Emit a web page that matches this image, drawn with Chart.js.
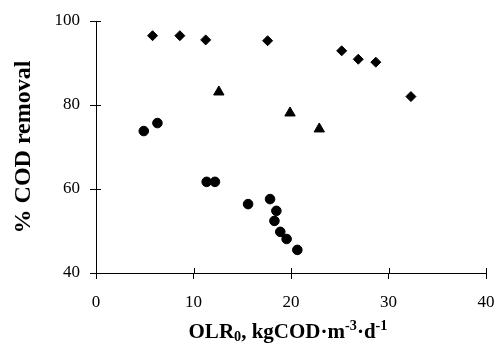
<!DOCTYPE html>
<html>
<head>
<meta charset="utf-8">
<script src="https://cdn.jsdelivr.net/npm/chart.js@4/dist/chart.umd.min.js"></script>
<style>
  html, body { margin: 0; padding: 0; background: #fff; }
  #wrap { width: 498px; height: 344px; }
</style>
</head>
<body>
<div id="wrap"><canvas id="chart"></canvas></div>
<script>
// 数据
const diamondX = [5.8, 8.6, 11.25, 17.6, 25.2, 26.9, 28.7, 32.3];
const diamondY = [96.5, 96.5, 95.5, 95.3, 92.9, 90.9, 90.2, 82.0];
const triangleX = [12.6, 19.9, 22.9];
const triangleY = [83.1, 78.1, 74.3];
const circleX = [4.9, 6.3, 11.35, 12.2, 15.6, 17.85, 18.5, 18.3, 18.9, 19.55, 20.65];
const circleY = [73.8, 75.7, 61.7, 61.7, 56.4, 57.6, 54.8, 52.4, 49.8, 48.1, 45.5];
const xTicks = [0, 10, 20, 30, 40];
const yTicks = [40, 60, 80, 100];

// x轴标题分段: 文字, 相对字号, 上下偏移(以字号计)
const xTitleParts = [
    ['OLR', 1, 0],
    ['0', 0.68, 0.16],
    [', kgCOD·m', 1, 0],
    ['-3', 0.68, -0.38],
    ['·d', 1, 0],
    ['-1', 0.68, -0.38]
];

const serif = "'Liberation Serif', 'Times New Roman', serif";

function toPoints(xs, ys) {
    return xs.map((x, i) => ({ x: x, y: ys[i] }));
}

function series(xs, ys, style, radius) {
    return {
        data: toPoints(xs, ys),
        pointStyle: style,
        pointRadius: radius,
        pointBackgroundColor: '#000',
        pointBorderColor: '#000',
        pointBorderWidth: 1,
        showLine: false
    };
}

// 轴线内侧的短刻度 + x轴标题(带上下标)
const axisExtras = {
    id: 'axisExtras',
    afterDraw(chart) {
        const ctx = chart.ctx;
        const xs = chart.scales.x, ys = chart.scales.y;
        ctx.save();
        ctx.strokeStyle = '#000';
        ctx.lineWidth = 1;
        ctx.beginPath();
        xTicks.forEach(v => {
            const px = Math.round(xs.getPixelForValue(v)) + 0.5;
            ctx.moveTo(px, ys.bottom);
            ctx.lineTo(px, ys.bottom - 5);
        });
        yTicks.forEach(v => {
            const py = Math.round(ys.getPixelForValue(v)) + 0.5;
            ctx.moveTo(xs.left, py);
            ctx.lineTo(xs.left + 5, py);
        });
        ctx.stroke();

        // x轴标题
        const size = 21;
        ctx.fillStyle = '#000';
        ctx.textBaseline = 'alphabetic';
        ctx.textAlign = 'left';
        let total = 0;
        xTitleParts.forEach(p => {
            ctx.font = `bold ${size * p[1]}px ${serif}`;
            total += ctx.measureText(p[0]).width;
        });
        let x = (xs.left + xs.right) / 2 - 3 - total / 2;
        const base = xs.bottom - 6;
        xTitleParts.forEach(p => {
            ctx.font = `bold ${size * p[1]}px ${serif}`;
            ctx.fillText(p[0], x, base + p[2] * size);
            x += ctx.measureText(p[0]).width;
        });
        ctx.restore();
    }
};

new Chart(document.getElementById('chart'), {
    type: 'scatter',
    data: {
        datasets: [
            series(diamondX, diamondY, 'rectRot', 5),
            series(triangleX, triangleY, 'triangle', 6),
            series(circleX, circleY, 'circle', 4.8)
        ]
    },
    options: {
        responsive: true,
        maintainAspectRatio: false,
        animation: false,
        layout: { padding: { top: 21, right: 12, left: 0, bottom: 0 } },
        plugins: { legend: { display: false }, tooltip: { enabled: false } },
        scales: {
            x: {
                type: 'linear',
                min: 0, max: 40,
                afterBuildTicks: s => { s.ticks = xTicks.map(v => ({ value: v })); },
                afterFit: s => { s.height = 71; s.paddingLeft = 0; s.paddingRight = 0; },
                ticks: { color: '#000', padding: 13, font: { family: serif, size: 17 } },
                grid: { drawOnChartArea: false, color: '#000', tickLength: 6 },
                border: { color: '#000' },
                title: { display: false }
            },
            y: {
                type: 'linear',
                min: 40, max: 100,
                afterBuildTicks: s => { s.ticks = yTicks.map(v => ({ value: v })); },
                afterFit: s => { s.width = 96; s.paddingTop = 0; s.paddingBottom = 0; },
                ticks: { color: '#000', padding: 10, font: { family: serif, size: 17 } },
                grid: { drawOnChartArea: false, color: '#000', tickLength: 6 },
                border: { color: '#000' },
                title: {
                    display: true,
                    text: '% COD removal',
                    color: '#000',
                    font: { family: serif, size: 24, weight: 'bold' },
                    padding: { top: 9, bottom: 0 }
                }
            }
        }
    },
    plugins: [axisExtras]
});
</script>
</body>
</html>
